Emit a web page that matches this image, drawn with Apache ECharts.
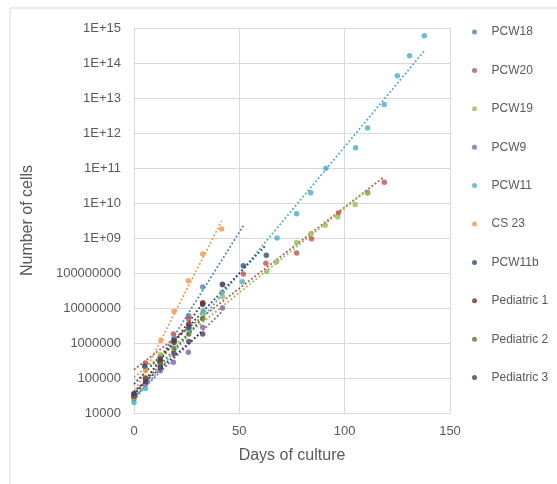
<!DOCTYPE html>
<html>
<head>
<meta charset="utf-8">
<script src="https://cdn.jsdelivr.net/npm/echarts@6/dist/echarts.min.js"></script>
<style>html,body{margin:0;padding:0;background:#fff;}#c{width:557px;height:484px;}</style>
</head>
<body>
<div id="c"></div>
<script>
// ---- data: [day, number of cells] ----
const pcw18 = [[0,2.5e4],[6,9e4],[12.5,4e5],[19,1.3e6],[26,6e6],[32.6,4e7]];
const pcw20 = [[0,3e4],[5.5,2.7e5],[12.5,4e5],[18.7,1.8e6],[25.8,4.9e6],[32.6,1.4e7],[42,4.6e7],[51.9,9.3e7],[62.6,1.9e8],[77.2,3.7e8],[84.3,9.5e8],[97,5.2e9],[110.9,2e10],[118.8,3.9e10]];
const pcw19 = [[0,3e4],[5.5,1.9e5],[12.5,4.6e5],[19,1e6],[26,2.5e6],[32.6,7e6],[42,2.1e7],[63,1.1e8],[67.7,2.1e8],[77.2,7.4e8],[84,1.35e9],[90.8,2.3e9],[96.7,4e9],[105,9e9],[110.9,1.9e10]];
const pcw9 = [[0,3e4],[5.5,7e4],[12.5,1.6e5],[18.7,2.8e5],[25.8,5.4e5],[32.6,2.8e6],[42,1e7]];
const pcw11 = [[0,2e4],[5.5,5e4],[12.5,2.5e5],[19,1.4e6],[26,2.5e6],[32.9,8.3e6],[41.8,2.8e7],[51.4,5.6e7],[67.9,1e9],[77.2,4.9e9],[83.9,1.95e10],[91.1,9.8e10],[105.2,3.8e11],[110.9,1.4e12],[118.8,6.5e12],[125,4.3e13],[130.8,1.6e14],[137.8,6e14]];
const cs23 = [[0,2.8e4],[5.5,1.6e5],[12.8,1.2e6],[19,8e6],[25.8,6e7],[32.6,3.5e8],[41.6,1.8e9]];
const pcw11b = [[0,3.5e4],[5,2.2e5],[12.5,3.5e5],[19,1.05e6],[26,2.8e6],[32.6,1.26e7],[42,4.8e7],[51.9,1.6e8],[62.8,3.2e8]];
const pediatric1 = [[0,3e4],[5.5,1e5],[12.5,3e5],[19,1.2e6],[26,3.5e6],[32.6,1.4e7]];
const pediatric2 = [[0,3e4],[5.5,9e4],[12.5,2.5e5],[19,7e5],[26,1.8e6],[32.6,5e6]];
const pediatric3 = [[0,3.6e4],[5.5,8e4],[12.5,2e5],[19,5e5],[26,1.1e6],[32.6,1.8e6]];

const seriesNames = ['PCW18','PCW20','PCW19','PCW9','PCW11','CS 23','PCW11b','Pediatric 1','Pediatric 2','Pediatric 3'];
const seriesData = [pcw18,pcw20,pcw19,pcw9,pcw11,cs23,pcw11b,pediatric1,pediatric2,pediatric3];
// trendline x-range end (forward forecast for PCW18)
const trendEnds = [52,null,null,null,null,null,null,null,null,null];
const xTicks = [0,50,100,150];
const yTicks = [1e4,1e5,1e6,1e7,1e8,1e9,1e10,1e11,1e12,1e13,1e14,1e15];

const colors = ['#4F81BD','#C0504D','#9BBB59','#8064A2','#4BACC6','#F79646','#2C4D75','#772C2A','#5F7530','#4D3B62'];

function expTrend(pts, endX){
  const n = pts.length;
  let sx=0, sy=0, sxx=0, sxy=0;
  pts.forEach(p=>{const x=p[0], y=Math.log10(p[1]); sx+=x; sy+=y; sxx+=x*x; sxy+=x*y;});
  const b = (n*sxy - sx*sy)/(n*sxx - sx*sx);
  const a = (sy - b*sx)/n;
  const x0 = 0;
  const x1 = endX != null ? endX : Math.max(...pts.map(p=>p[0]));
  return [[x0, Math.pow(10, a+b*x0)], [x1, Math.pow(10, a+b*x1)]];
}

const series = [];
seriesData.forEach((d,i)=>{
  series.push({
    type:'line', name: seriesNames[i]+' trend', data: expTrend(d, trendEnds[i]),
    showSymbol:false, symbol:'none', silent:true, z:1,
    lineStyle:{color:colors[i], width:1.8, type:[1.8,2.2], cap:'butt'}
  });
});
seriesData.forEach((d,i)=>{
  series.push({
    type:'scatter', name: seriesNames[i], data: d, symbol:'circle', symbolSize:5.5, z:3,
    itemStyle:{color:colors[i]}
  });
});

const chart = echarts.init(document.getElementById('c'), null, {renderer:'canvas'});
const txt = '#595959';
chart.setOption({
  animation:false,
  color: colors,
  graphic:[{type:'rect', shape:{x:10,y:8,width:700,height:700}, style:{fill:'none', stroke:'#d9d9d9', lineWidth:1}, silent:true}],
  grid:{left:134, top:28, right:107, bottom:71, containLabel:false},
  legend:{
    orient:'vertical', left:467, top:20, data: seriesNames,
    icon:'circle', itemWidth:24, itemHeight:5, itemGap:24.4,
    textStyle:{color:txt, fontSize:12, fontFamily:'Liberation Sans, Arial, sans-serif', lineHeight:14}
  },
  xAxis:{
    type:'value', min:0, max:150, interval:50,
    name:'Days of culture', nameLocation:'middle', nameGap:35,
    nameTextStyle:{color:txt, fontSize:16, fontFamily:'Liberation Sans, Arial, sans-serif'},
    axisLine:{show:true, lineStyle:{color:'#d9d9d9'}}, axisTick:{show:false},
    axisLabel:{color:txt, fontSize:13, margin:12, fontFamily:'Liberation Sans, Arial, sans-serif',
      formatter:v=> xTicks.includes(v)? String(v): ''},
    splitLine:{show:true, lineStyle:{color:'#d9d9d9', width:1}}
  },
  yAxis:{
    type:'log', logBase:10, min:yTicks[0], max:yTicks[yTicks.length-1], interval:1,
    name:'Number of cells', nameLocation:'middle', nameGap:98,
    nameTextStyle:{color:txt, fontSize:16, fontFamily:'Liberation Sans, Arial, sans-serif'},
    axisLine:{show:false}, axisTick:{show:false},
    axisLabel:{color:txt, fontSize:13, margin:13, fontFamily:'Liberation Sans, Arial, sans-serif',
      formatter:function(v){const e=Math.round(Math.log10(v)); return e>=9 ? '1E+'+(e<10?'0':'')+e : String(Math.round(Math.pow(10,e)));}},
    splitLine:{show:true, lineStyle:{color:'#d9d9d9', width:1}}
  },
  series: series
});
</script>
</body>
</html>
